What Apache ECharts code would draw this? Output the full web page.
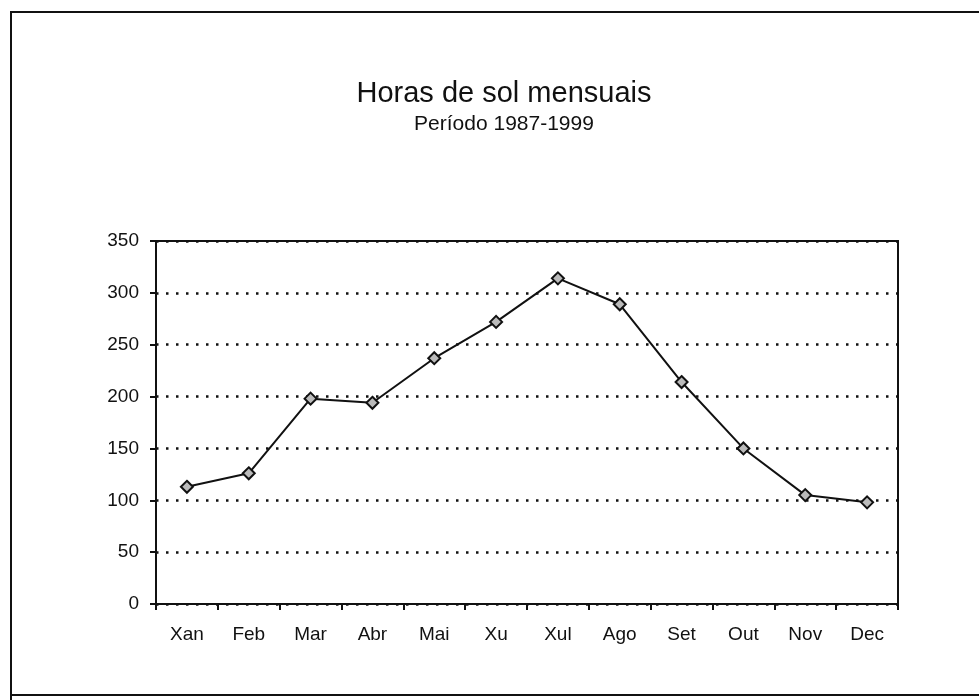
<!DOCTYPE html>
<html>
<head>
<meta charset="utf-8">
<script src="https://cdn.jsdelivr.net/npm/echarts@6/dist/echarts.min.js"></script>
<style>
  html, body { margin: 0; padding: 0; background: #fff; }
  #chart { width: 979px; height: 700px; }
</style>
</head>
<body>
<div id="chart"></div>
<script>
var months = ['Xan', 'Feb', 'Mar', 'Abr', 'Mai', 'Xu', 'Xul', 'Ago', 'Set', 'Out', 'Nov', 'Dec'];
var sunHours = [113, 126, 198, 194, 237, 272, 314, 289, 214, 150, 105, 98];

var chart = echarts.init(document.getElementById('chart'));
var option = {
    backgroundColor: '#fff',
    animation: false,
    title: {
        text: 'Horas de sol mensuais',
        subtext: 'Período 1987-1999',
        left: 499,
        textAlign: 'center',
        top: 74,
        itemGap: 6,
        textStyle: {
            fontFamily: 'Liberation Sans',
            fontSize: 29,
            fontWeight: 'normal',
            color: '#111'
        },
        subtextStyle: {
            fontFamily: 'Liberation Sans',
            fontSize: 21,
            color: '#111'
        }
    },
    // marco da folla
    graphic: [
        {
            type: 'polyline',
            shape: { points: [[979, 12], [11, 12], [11, 700]] },
            style: { stroke: '#111', lineWidth: 2, fill: null }
        },
        {
            type: 'line',
            shape: { x1: 11, y1: 695, x2: 979, y2: 695 },
            style: { stroke: '#111', lineWidth: 2 }
        }
    ],
    grid: {
        left: 156,
        right: 81,
        top: 241,
        bottom: 96,
        show: true,
        borderColor: '#111',
        borderWidth: 2,
        containLabel: false
    },
    xAxis: {
        type: 'category',
        data: months,
        boundaryGap: true,
        axisLine: { lineStyle: { color: '#111', width: 2 } },
        axisTick: { show: true, length: 6, lineStyle: { color: '#111', width: 2 } },
        axisLabel: {
            color: '#111',
            fontFamily: 'Liberation Sans',
            fontSize: 19,
            margin: 21
        }
    },
    yAxis: {
        type: 'value',
        min: 0,
        max: 350,
        interval: 50,
        axisLine: { show: true, lineStyle: { color: '#111', width: 2 } },
        axisTick: { show: true, length: 6, lineStyle: { color: '#111', width: 2 } },
        axisLabel: {
            color: '#111',
            fontFamily: 'Liberation Sans',
            fontSize: 19,
            margin: 17
        },
        splitLine: {
            show: true,
            lineStyle: { color: '#111', width: 2.5, type: [2.5, 7.5] }
        }
    },
    series: [
        {
            name: 'Horas de sol',
            type: 'line',
            data: sunHours,
            symbol: 'diamond',
            symbolSize: 12,
            lineStyle: { color: '#111', width: 2 },
            itemStyle: { color: '#bbb', borderColor: '#111', borderWidth: 2 }
        }
    ]
};
chart.setOption(option);
</script>
</body>
</html>
